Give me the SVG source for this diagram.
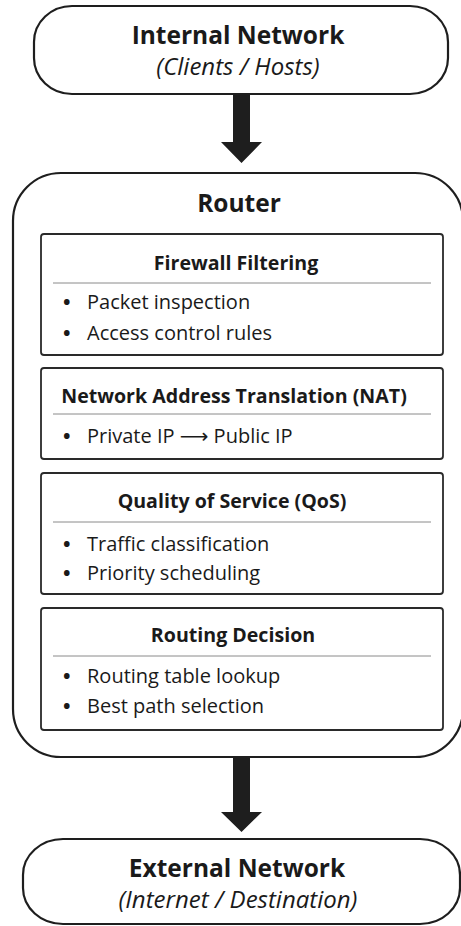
<svg xmlns="http://www.w3.org/2000/svg" width="461" height="926" viewBox="0 0 461 926">
<style>
.outer{fill:#fff;stroke:#1e1e1e;stroke-width:2.2}
.inner{fill:#fff;stroke:#2a2a2a;stroke-width:1.8}
.sep{stroke:#8a8a8a;stroke-width:1}
.t{font-family:"Open Sans","Noto Sans",sans-serif;fill:#1a1a1a}
.big{font-size:24.5px;font-weight:bold;text-anchor:middle}
.sub{font-size:24px;font-style:italic;text-anchor:middle}
.h{font-size:19.6px;font-weight:bold;text-anchor:middle}
.b{font-size:20px}
.dot{font-weight:bold}
.arrow{fill:#1e1e1e}
</style>
<rect width="461" height="926" fill="#fff"/>
<g id="connectors">
<polygon class="arrow" points="233,94 250,94 250,142 262,142 241.5,163 221,142 233,142"/>
<polygon class="arrow" points="233,757 250,757 250,812 262,812 241.5,832 221,812 233,812"/>
</g>
<g id="internal">
<rect class="outer" x="34" y="6" width="414" height="88" rx="38" ry="36"/>
<text class="t big" x="238" y="44">Internal Network</text>
<text class="t sub" x="238" y="75">(Clients / Hosts)</text>
</g>
<g id="router">
<rect class="outer" x="13" y="173" width="450" height="584" rx="48" ry="48"/>
<text class="t big" x="239" y="212">Router</text>
</g>
<g id="firewall">
<rect class="inner" x="41" y="234" width="402" height="121" rx="3"/>
<text class="t h" x="236" y="270">Firewall Filtering</text>
<line class="sep" x1="53" y1="283" x2="431" y2="283"/>
<text class="t b" x="63" y="309"><tspan class="dot">•</tspan><tspan x="87">Packet inspection</tspan></text>
<text class="t b" x="63" y="340"><tspan class="dot">•</tspan><tspan x="87">Access control rules</tspan></text>
</g>
<g id="nat">
<rect class="inner" x="41" y="368" width="402" height="91" rx="3"/>
<text class="t h" x="234" y="403">Network Address Translation (NAT)</text>
<line class="sep" x1="53" y1="414" x2="431" y2="414"/>
<text class="t b" x="63" y="443"><tspan class="dot">•</tspan><tspan x="87">Private IP </tspan><tspan font-family="DejaVu Sans">⟶</tspan><tspan> Public IP</tspan></text>
</g>
<g id="qos">
<rect class="inner" x="41" y="473" width="402" height="121" rx="3"/>
<text class="t h" x="232" y="508">Quality of Service (QoS)</text>
<line class="sep" x1="53" y1="522" x2="431" y2="522"/>
<text class="t b" x="63" y="551"><tspan class="dot">•</tspan><tspan x="87">Traffic classification</tspan></text>
<text class="t b" x="63" y="580"><tspan class="dot">•</tspan><tspan x="87">Priority scheduling</tspan></text>
</g>
<g id="routing">
<rect class="inner" x="41" y="608" width="402" height="122" rx="3"/>
<text class="t h" x="233" y="642">Routing Decision</text>
<line class="sep" x1="53" y1="656" x2="431" y2="656"/>
<text class="t b" x="63" y="683"><tspan class="dot">•</tspan><tspan x="87">Routing table lookup</tspan></text>
<text class="t b" x="63" y="713"><tspan class="dot">•</tspan><tspan x="87">Best path selection</tspan></text>
</g>
<g id="external">
<rect class="outer" x="23" y="839" width="437" height="85" rx="40" ry="36"/>
<text class="t big" x="237" y="877">External Network</text>
<text class="t sub" x="238" y="908">(Internet / Destination)</text>
</g>
</svg>
